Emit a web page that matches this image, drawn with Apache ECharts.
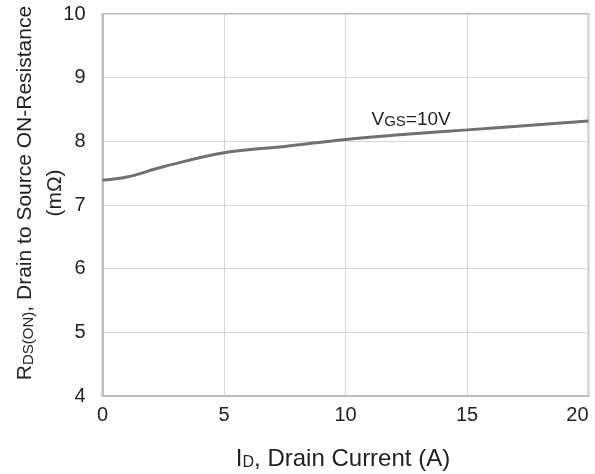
<!DOCTYPE html>
<html><head><meta charset="utf-8">
<script src="https://cdn.jsdelivr.net/npm/echarts@6/dist/echarts.min.js"></script>
<style>html,body{margin:0;padding:0;background:#fff}#c{width:595px;height:474px}</style>
</head><body><div id="c"></div>
<script>
var currentA = [0, 1, 2.5, 5, 7.5, 10, 12.5, 15, 17.5, 20];
var rdsOn = [7.39, 7.44, 7.60, 7.82, 7.92, 8.03, 8.11, 8.18, 8.25, 8.32];
var xTicks = [0, 5, 10, 15, 20];
var yTicks = [4, 5, 6, 7, 8, 9, 10];
var curveLabel = {x: 12.7, y: 8.34};

var chart = echarts.init(document.getElementById('c'));
var FONT = '"Liberation Sans", Arial, sans-serif';
chart.setOption({
  animation: false,
  grid: {left: 102.5, right: 6.5, top: 14, bottom: 78, outerBoundsMode: 'none', containLabel: false,
    show: true, borderColor: '#bdbdbd', borderWidth: 2, backgroundColor: '#fff'},
  xAxis: {
    type: 'value', min: xTicks[0], max: xTicks[xTicks.length-1], interval: 5,
    axisLine: {show: true, lineStyle: {color: '#bdbdbd', width: 2}},
    axisTick: {show: false},
    splitLine: {show: true, lineStyle: {color: '#d6d6d6', width: 1}},
    axisLabel: {color: '#222', fontSize: 20, fontFamily: FONT, margin: 9, alignMaxLabel: 'right'}
  },
  yAxis: {
    type: 'value', min: yTicks[0], max: yTicks[yTicks.length-1], interval: 1,
    axisLine: {show: true, lineStyle: {color: '#bdbdbd', width: 2}},
    axisTick: {show: false},
    splitLine: {show: true, lineStyle: {color: '#d6d6d6', width: 1}},
    axisLabel: {color: '#222', fontSize: 20, fontFamily: FONT, margin: 17}
  },
  series: [{
    type: 'line', data: currentA.map(function(x, i){ return [x, rdsOn[i]]; }),
    smooth: 0.4, showSymbol: false, symbol: 'none',
    lineStyle: {color: '#707070', width: 3},
    markPoint: {
      symbol: 'circle', symbolSize: 0,
      data: [{coord: [curveLabel.x, curveLabel.y]}],
      label: {show: true, position: 'inside',
        formatter: '{a|V}{b|GS}{a|=10V}',
        rich: {
          a: {fontSize: 19, color: '#222', fontFamily: FONT, verticalAlign: 'bottom'},
          b: {fontSize: 15, color: '#222', fontFamily: FONT, verticalAlign: 'bottom'}
        }
      }
    }
  }],
  graphic: [
    {type: 'text', x: 343, y: 457, style: {
      text: '{a|I}{b|D}{a|, Drain Current (A)}', align: 'center', verticalAlign: 'middle',
      rich: {
        a: {fontSize: 24, fill: '#222', fontFamily: FONT, verticalAlign: 'bottom', lineHeight: 28},
        b: {fontSize: 16, fill: '#222', fontFamily: FONT, verticalAlign: 'bottom', lineHeight: 22}
      }}},
    {type: 'text', x: 36, y: 193, rotation: Math.PI/2, style: {
      text: '{a|R}{b|DS(ON)}{a|, Drain to Source ON-Resistance}\n{a|(mΩ)}', align: 'center', verticalAlign: 'middle',
      rich: {
        a: {fontSize: 21, fill: '#222', fontFamily: FONT, verticalAlign: 'bottom', lineHeight: 30, align: 'center'},
        b: {fontSize: 15, fill: '#222', fontFamily: FONT, verticalAlign: 'bottom', lineHeight: 25}
      }}}
  ]
});
</script></body></html>
